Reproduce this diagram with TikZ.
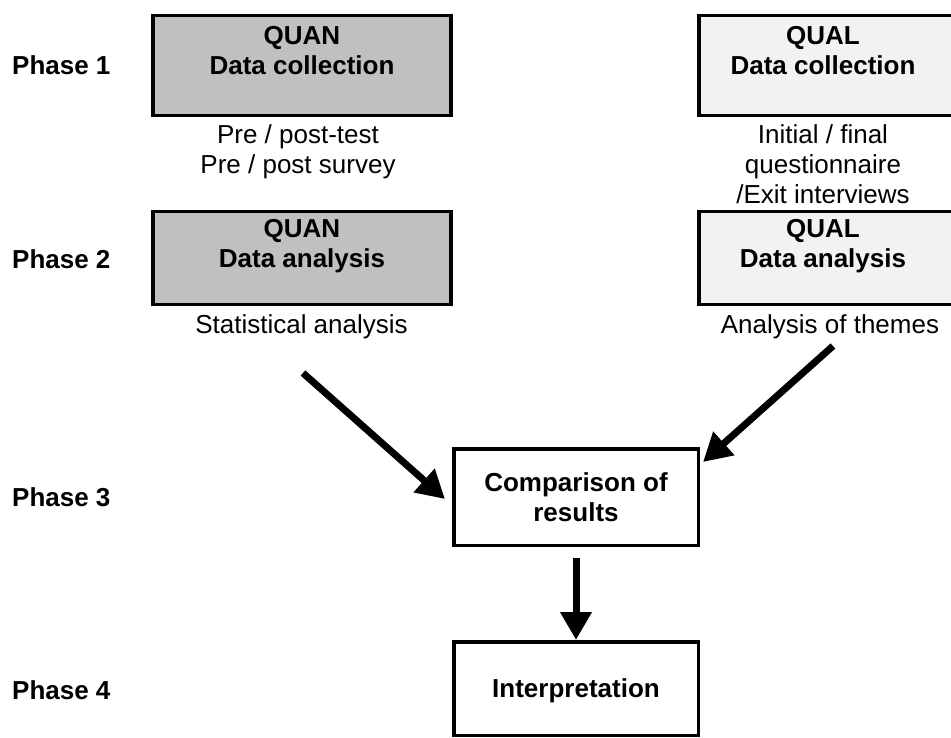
\documentclass[tikz,border=0pt]{standalone}
\usepackage{fontspec}
\setmainfont{Liberation Sans}
\usetikzlibrary{arrows.meta}
\definecolor{quanfill}{HTML}{C0C0C0}
\definecolor{qualfill}{HTML}{F2F2F2}
\begin{document}
\begin{tikzpicture}[x=1pt,y=-1pt,
  every node/.style={font=\fontsize{26}{30}\selectfont, inner sep=0pt},
  box/.style={draw, line width=3.5pt, rectangle},
  quanbox/.style={box, fill=quanfill},
  qualbox/.style={box, fill=qualfill},
  plainbox/.style={box, fill=white},
  head/.style={font=\fontsize{26}{30}\selectfont\bfseries, align=center},
  note/.style={align=center},
  phase/.style={font=\fontsize{26}{30}\selectfont\bfseries, anchor=base west},
  flow/.style={line width=7pt, -{Triangle[length=28pt,width=30pt]}}
]
\useasboundingbox (0,0) rectangle (951,738);
\clip (0,0) rectangle (951,738);

% phase labels
\node[phase] (ph1) at (12,75) {Phase 1};
\node[phase] (ph2) at (12,269) {Phase 2};
\node[phase] (ph3) at (12,506) {Phase 3};
\node[phase] (ph4) at (12,699) {Phase 4};

% quantitative strand
\node[quanbox, minimum width=298pt, minimum height=100pt] (quanC) at (302,65.75) {};
\node[head] (quanCt) at (302,50.5) {QUAN\\Data collection};
\node[note] (quanCn) at (298,152) {Pre / post-test\\Pre / post survey};
\node[quanbox, minimum width=298pt, minimum height=93pt] (quanA) at (302,258.25) {};
\node[head] (quanAt) at (302,246) {QUAN\\Data analysis};
\node[note] (quanAn) at (301.5,327) {Statistical analysis};

% qualitative strand
\node[qualbox, minimum width=254.5pt, minimum height=100pt] (qualC) at (826,65.75) {};
\node[head] (qualCt) at (823,51) {QUAL\\Data collection};
\node[note] (qualCn) at (823,164) {Initial / final\\questionnaire\\/Exit interviews};
\node[qualbox, minimum width=254.5pt, minimum height=93pt] (qualA) at (826,258.25) {};
\node[head] (qualAt) at (823,246) {QUAL\\Data analysis};
\node[note] (qualAn) at (830,327) {Analysis of themes};

% merged phases
\node[plainbox, head, minimum width=244.5pt, minimum height=96.5pt] (comp) at (576,497) {Comparison of\\results};
\node[plainbox, head, text depth=0pt, minimum width=244.5pt, minimum height=93.5pt] (interp) at (576,688.5) {Interpretation};

% connectors
\coordinate (quanEnd) at (303,373);
\coordinate (qualEnd) at (833,346);
\draw[flow] (quanEnd) -- ([shift={(-7,2)}]comp.west);
\draw[flow] (qualEnd) -- ([shift={(3,15)}]comp.north east);
\draw[flow] ([shift={(0,11)}]comp.south) -- (interp.north);
\end{tikzpicture}
\end{document}
